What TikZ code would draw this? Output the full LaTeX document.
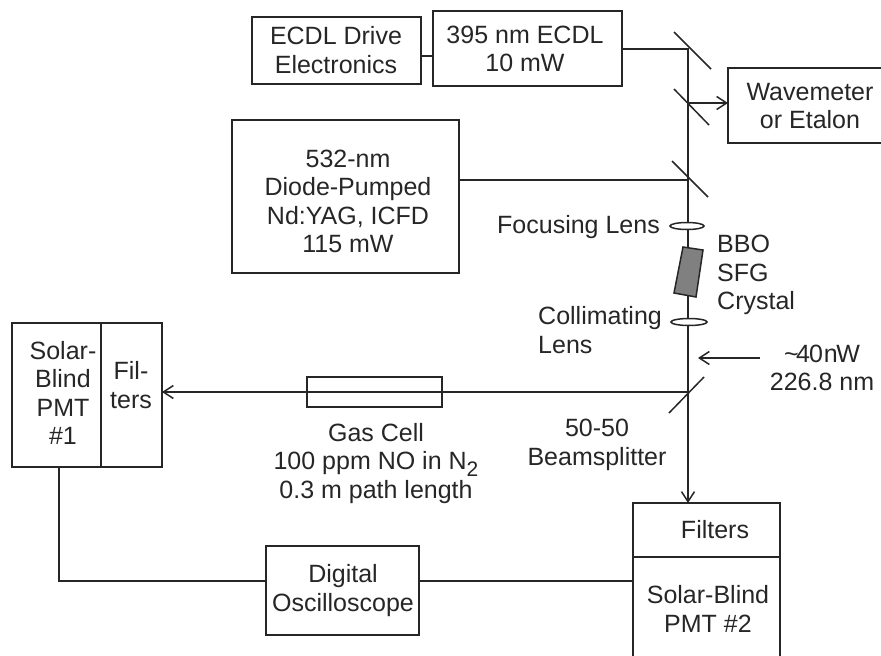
\documentclass[tikz,border=0pt]{standalone}
\usepackage{fontspec}
\setmainfont{Liberation Sans}
\usetikzlibrary{arrows.meta}
\tikzset{
 x=1pt,y=-1pt,
 box/.style={draw=ink,line width=1.9pt,fill=none},
 beam/.style={draw=ink,line width=1.6pt},
 arr/.style={beam,-{Straight Barb[length=10pt,width=13pt,line width=1.5pt]}},
 mir/.style={draw=ink,line width=1.5pt},
 lens/.style={draw=ink,line width=1.5pt,fill=white},
 lab/.style={text=ink,align=center,inner sep=0pt,font=\fontsize{25}{28.4}\selectfont},
}
\definecolor{ink}{HTML}{262626}
\definecolor{xtal}{HTML}{808080}
\begin{document}
\begin{tikzpicture}
\useasboundingbox (0,0) rectangle (881,656);
% coordinates
\coordinate (b1) at (688,49);
\coordinate (b2) at (688,103);
\coordinate (b3) at (688,180);
\coordinate (b4) at (688,392);
\coordinate (m1a) at (674,32); \coordinate (m1b) at (711,69);
\coordinate (m2a) at (674,89); \coordinate (m2b) at (709,125);
\coordinate (m3a) at (672,161); \coordinate (m3b) at (708,197);
\coordinate (m4a) at (704,377); \coordinate (m4b) at (669,413);
\coordinate (pa) at (760,358); \coordinate (pb) at (698,358);
\coordinate (t1) at (59,467); \coordinate (t2) at (59,581);
\coordinate (t3) at (266,581); \coordinate (t4) at (419,581); \coordinate (t5) at (633,581);
\coordinate (d1) at (421,56); \coordinate (d2) at (433,56);
\coordinate (l1) at (622,49);
\coordinate (y1) at (459,180);
\coordinate (w1) at (728,103);
\coordinate (f2) at (688,503);
\coordinate (f1) at (162,392);
% boxes
\draw[box] (252,17) rectangle (421,84);
\draw[box] (433,11) rectangle (622,86);
\draw[box] (728,68) rectangle (890,143);
\draw[box] (232,120) rectangle (459,273);
\draw[box] (12,323) rectangle (162,467);
\draw[box] (101,323) -- (101,467);
\draw[box] (307,377) rectangle (442,407);
\draw[box] (266,546) rectangle (419,635);
\draw[box] (633,503) rectangle (780,670);
\draw[box] (633,557) -- (780,557);
% beams
\draw[beam] (d1) -- (d2);
\draw[beam] (l1) -- (b1) -- (b4);
\draw[beam] (y1) -- (b3);
\draw[arr] (b2) -- (w1);
\draw[arr] (b4) -- (f1);
\draw[arr] (b4) -- (f2);
\draw[arr] (pa) -- (pb);
\draw[beam] (t1) -- (t2) -- (t3);
\draw[beam] (t4) -- (t5);
\draw[mir] (m1a) -- (m1b);
\draw[mir] (m2a) -- (m2b);
\draw[mir] (m3a) -- (m3b);
\draw[mir] (m4a) -- (m4b);
\draw[lens] (687,226) ellipse (17 and 3.5);
\draw[lens] (689,322) ellipse (18 and 3.5);
\draw[draw=ink,line width=1.5pt,fill=xtal] (683,247) -- (703,250) -- (696,297) -- (674,293) -- cycle;
% labels
\node[lab] (n1) at (336,50) {ECDL Drive\\Electronics};
\node[lab] (n2) at (525,49) {395 nm ECDL\\10 mW};
\node[lab] (n3) at (810,106) {Wavemeter\\or Etalon};
\node[lab] (n4) at (348,201.5) {532-nm\\Diode-Pumped\\Nd:YAG, ICFD\\115 mW};
\node[lab,anchor=east] (n5) at (660,227) {Focusing Lens};
\node[lab,align=left,anchor=west] (n6) at (717,275) {BBO\\SFG\\Crystal};
\node[lab,align=left,anchor=west] (n7) at (538,330) {Collimating\\Lens};
\node[lab] (n8) at (822,368) {\textasciitilde{}\kern-2.5pt 4\kern-1pt 0\kern1pt n\kern-1.5pt W\\226.8 nm};
\node[lab] (n9) at (597,445) {50-50\\Beamsplitter};
\node[lab] (n10) at (63,393) {Solar-\\Blind\\PMT\\\#1};
\node[lab] (n11) at (131,385) {Fil-\\ters};
\node[lab] (n12) at (376,463.5) {Gas Cell\\100 ppm NO in N\raisebox{-0.28em}{\fontsize{21}{21}\selectfont 2}\\0.3 m path length};
\node[lab] (n13) at (343,590.5) {Digital\\Oscilloscope};
\node[lab] (n14) at (715,530) {Filters};
\node[lab] (n15) at (708,609) {Solar-Blind\\PMT \#2};
\end{tikzpicture}
\end{document}
